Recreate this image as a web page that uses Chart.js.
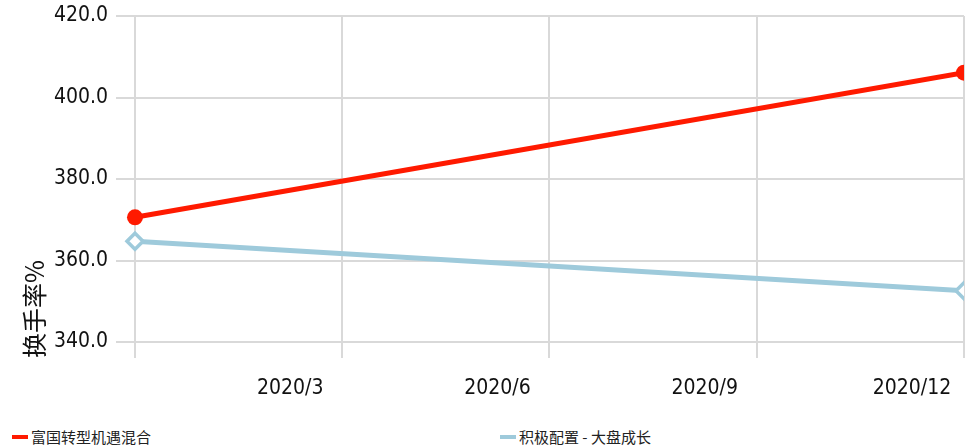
<!DOCTYPE html>
<html>
<head>
<meta charset="utf-8">
<script src="https://cdn.jsdelivr.net/npm/chart.js@4"></script>
<style>
  body { margin: 0; background: #fff; }
  #wrap { position: relative; width: 976px; height: 410px; }
  #legend { position: absolute; top: 426px; left: 0; width: 976px; height: 22px;
            font-family: "Noto Sans CJK SC", sans-serif; font-size: 15px; color: #222; }
  .item { position: absolute; top: 0; display: flex; align-items: center; }
  .item span.swatch { display: inline-block; width: 16px; height: 4px; margin-right: 3px; }
</style>
</head>
<body>
<div id="wrap"><canvas id="chart"></canvas></div>
<div id="legend"></div>
<script>
// months since 2019/12
const months = [0, 12];
const seriesNames = ['富国转型机遇混合', '积极配置 - 大盘成长'];
const fundValues = [370.6, 406.1];
const benchValues = [364.7, 352.6];
const xTickLabels = ['', '2020/3', '2020/6', '2020/9', '2020/12'];
const yTitle = '换手率%';

const colors = ['#ff1a00', '#9ecadb'];

const tickFont = { family: '"DejaVu Sans Condensed", "Liberation Sans Narrow", sans-serif', size: 21 };

// y title drawn a bit below the plot bottom, like the original
const yTitlePlugin = {
    id: 'yTitle',
    afterDraw(chart) {
        const ctx = chart.ctx;
        ctx.save();
        ctx.translate(34, chart.chartArea.bottom + 16);
        ctx.rotate(-Math.PI / 2);
        ctx.font = '25px "Noto Sans CJK SC", sans-serif';
        ctx.fillStyle = '#111';
        ctx.textAlign = 'left';
        ctx.textBaseline = 'middle';
        ctx.fillText(yTitle, 0, 0);
        ctx.restore();
    }
};

new Chart(document.getElementById('chart'), {
    type: 'line',
    data: {
        datasets: [
            {
                label: seriesNames[0],
                data: months.map((m, i) => ({ x: m, y: fundValues[i] })),
                borderColor: colors[0],
                backgroundColor: colors[0],
                borderWidth: 5,
                pointRadius: 8,
                pointStyle: 'circle',
                pointBorderWidth: 0,
                tension: 0
            },
            {
                label: seriesNames[1],
                data: months.map((m, i) => ({ x: m, y: benchValues[i] })),
                borderColor: colors[1],
                backgroundColor: '#fff',
                borderWidth: 5,
                pointRadius: 8,
                pointStyle: 'rectRot',
                pointBorderWidth: 3.5,
                tension: 0
            }
        ]
    },
    options: {
        responsive: true,
        maintainAspectRatio: false,
        animation: false,
        layout: { padding: { top: 16, right: 12, left: 0, bottom: 0 } },
        plugins: { legend: { display: false }, tooltip: { enabled: false } },
        scales: {
            x: {
                type: 'linear',
                min: -0.275,
                max: 12,
                grid: { color: '#d9d9d9', lineWidth: 2, tickLength: 16 },
                border: { display: false },
                ticks: {
                    stepSize: 3,
                    includeBounds: false,
                    autoSkip: false,
                    maxRotation: 0,
                    labelOffset: -52,
                    padding: 18,
                    color: '#111',
                    font: tickFont,
                    callback: v => xTickLabels[Math.round(v / 3)] || ''
                },
                afterFit: s => { s.height = 68; s.paddingLeft = 0; s.paddingRight = 0; }
            },
            y: {
                min: 340,
                max: 420,
                grid: { color: '#d9d9d9', lineWidth: 2, tickLength: 0 },
                border: { display: false },
                ticks: {
                    stepSize: 20,
                    padding: 8,
                    color: '#111',
                    font: tickFont,
                    callback: v => v.toFixed(1)
                },
                afterFit: s => { s.width = 116; s.paddingTop = 0; s.paddingBottom = 0; }
            }
        }
    },
    plugins: [yTitlePlugin]
});

// Legend
const legend = document.getElementById('legend');
seriesNames.forEach((name, i) => {
    const div = document.createElement('div');
    div.className = 'item';
    div.style.left = (12 + i * 488) + 'px';
    div.innerHTML = `<span class="swatch" style="background:${colors[i]}"></span>${name}`;
    legend.appendChild(div);
});
</script>
</body>
</html>
